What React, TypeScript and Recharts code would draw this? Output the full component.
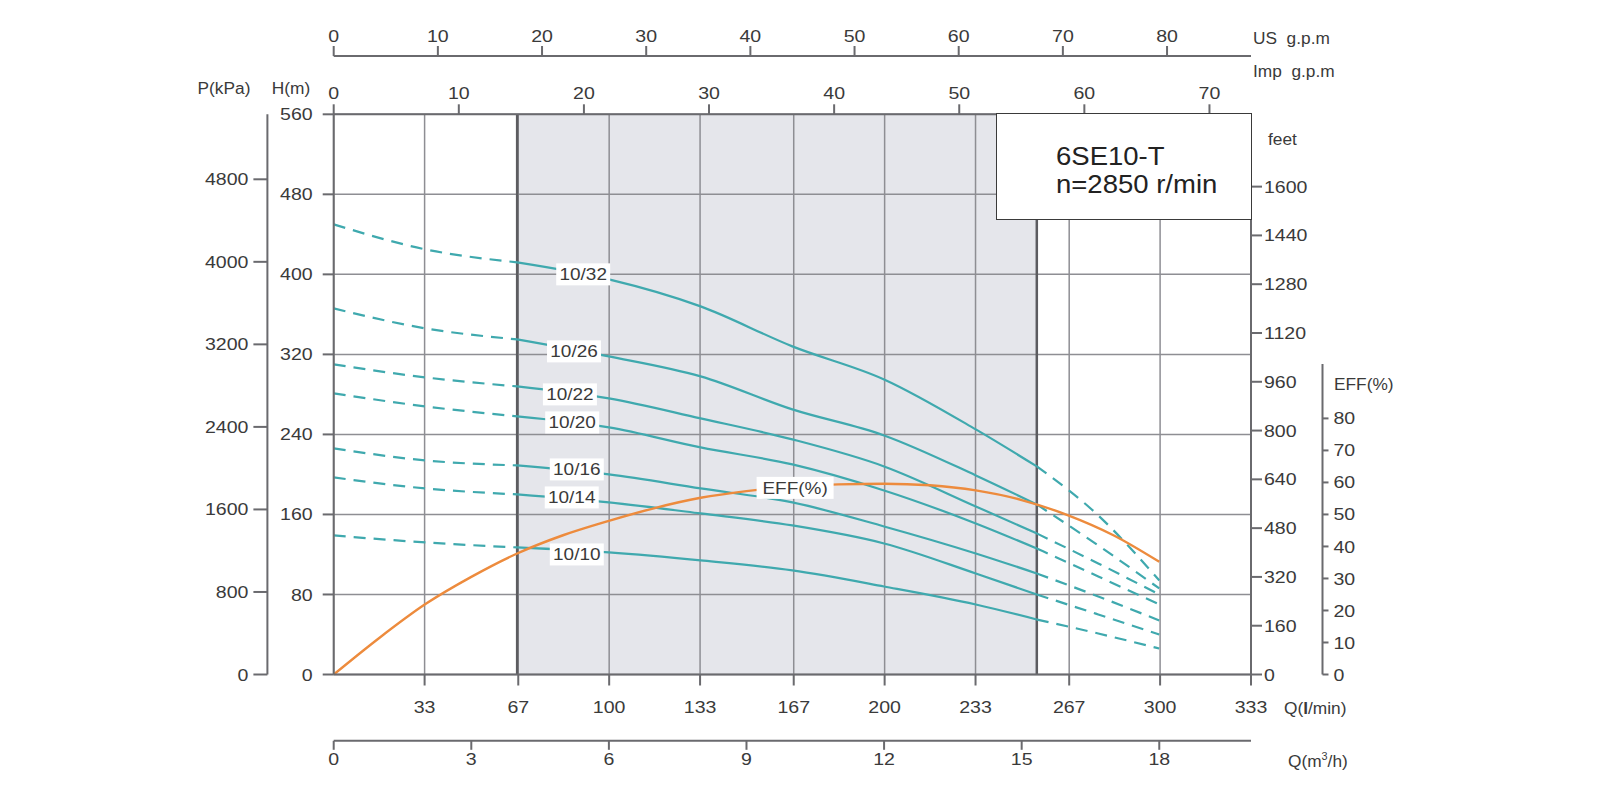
import React from 'react';
import {
  LineChart,
  Line,
  XAxis,
  YAxis,
  CartesianGrid,
  ReferenceArea,
  ReferenceLine,
  ReferenceDot,
} from 'recharts';

// flow points (m3/h) where the head curves were read
const Q_POINTS = [0, 2, 4, 6, 8, 10, 12, 14, 15.33, 16.67, 18];

// head (m) per model, same order as Q_POINTS
const HEAD_10_32 = [450, 425, 412, 395, 368, 328, 295, 245, 208, 159, 94];
const HEAD_10_26 = [366, 346, 335, 318, 298, 265, 239, 199, 170, 129, 86];
const HEAD_10_22 = [310, 297, 288, 276, 256, 235, 208, 168, 141, 111, 80];
const HEAD_10_20 = [281, 268, 258, 247, 227, 210, 184, 151, 126, 98, 70];
const HEAD_10_16 = [226, 214, 209, 200, 186, 172, 148, 121, 101, 78, 54];
const HEAD_10_14 = [197, 186, 180, 172, 161, 149, 131, 101, 80, 60, 40];
const HEAD_10_10 = [139, 132, 127, 122, 114, 104, 88, 70, 55, 41, 26];

const MODELS = ['10/32', '10/26', '10/22', '10/20', '10/16', '10/14', '10/10'];
const HEADS = [HEAD_10_32, HEAD_10_26, HEAD_10_22, HEAD_10_20, HEAD_10_16, HEAD_10_14, HEAD_10_10];

// where the model name sits on each curve
const LABEL_Q = [5.44, 5.24, 5.15, 5.2, 5.3, 5.19, 5.3];
const LABEL_H = [400, 323, 280, 252, 205, 177, 120];

// efficiency curve
const EFF_Q = [0, 1, 2, 3, 4, 5, 6, 7, 8, 9, 10, 11, 12, 13, 14, 15, 16, 17, 18];
const EFF_VALUES = [0, 11.5, 22, 30.5, 37.8, 43.5, 48, 52, 55.2, 57.3, 58.7, 59.4, 59.6, 59.1, 57.5, 54.5, 49.8, 43.5, 35.2];
const EFF_LABEL_Q = 10.06;
const EFF_LABEL_V = 58.3;

// recommended operating range (m3/h)
const RANGE_FROM = 4;
const RANGE_TO = 15.33;

const US_GPM_TICKS = [0, 10, 20, 30, 40, 50, 60, 70, 80];
const IMP_GPM_TICKS = [0, 10, 20, 30, 40, 50, 60, 70];
const LPM_TICKS = [33, 67, 100, 133, 167, 200, 233, 267, 300, 333];
const M3H_TICKS = [0, 3, 6, 9, 12, 15, 18];
const H_TICKS = [0, 80, 160, 240, 320, 400, 480, 560];
const KPA_TICKS = [0, 800, 1600, 2400, 3200, 4000, 4800];
const FEET_TICKS = [0, 160, 320, 480, 640, 800, 960, 1120, 1280, 1440, 1600];
const EFF_TICKS = [0, 10, 20, 30, 40, 50, 60, 70, 80];

const Q_MAX = 20;
const H_MAX = 560;
const EFF_MAX = 175;
const EFF_AXIS_TOP = 97;

const TEAL = '#3fa9ae';
const ORANGE = '#ed8b3d';
const GRID = '#8e8e93';
const AXIS = '#6a6a6e';
const EDGE = '#5c5c60';
const SHADE = '#e5e6eb';
const TEXT = '#3a3a3a';
const FONT = '"Liberation Sans", Arial, sans-serif';
const STRETCH = 1.15; // the source lettering is a bit wider than Arial

const MARGIN = { top: 6, right: 217.5, bottom: 9.2, left: 187.4 };
const PLOT_H = 800 - 6 - 50 - 58.3 - 66.3 - 50 - 9.2;
const EFF_GAP = ((EFF_MAX - EFF_AXIS_TOP) / EFF_MAX) * PLOT_H;

const segment = (heads: number[], lo: number, hi: number) =>
  Q_POINTS.map((q, i) => ({ q, h: heads[i] })).filter((p) => p.q >= lo && p.q <= hi);

const effData = EFF_Q.map((q, i) => ({ q, e: EFF_VALUES[i] }));

const lineStyle = { stroke: AXIS, strokeWidth: 2 };

const WideTick = (props: any) => {
  const { x, y, payload, textAnchor, verticalAnchor } = props;
  const dy = verticalAnchor === 'start' ? '0.71em' : verticalAnchor === 'end' ? '0' : '0.355em';
  return (
    <g transform={`translate(${x},${y}) scale(${STRETCH},1)`}>
      <text x={0} y={0} dy={dy} textAnchor={textAnchor} fill={TEXT} fontSize={17} fontFamily={FONT}>
        {payload.value}
      </text>
    </g>
  );
};

const labelShape = (text: string, w: number) => (p: any) => (
  <g>
    <rect x={p.cx - w / 2} y={p.cy - 11} width={w} height={22} fill="#fff" />
    <g transform={`translate(${p.cx},${p.cy}) scale(${STRETCH},1)`}>
      <text x={0} y={0} dy="0.36em" textAnchor="middle" fontSize={16.5} fill={TEXT} fontFamily={FONT}>
        {text}
      </text>
    </g>
  </g>
);

const Caption = ({ x, y, center, size = 16, children }: any) => (
  <div
    style={{
      position: 'absolute',
      left: x,
      top: y,
      transform: center ? 'translate(-50%, -50%) scaleX(1.08)' : 'translateY(-50%) scaleX(1.08)',
      transformOrigin: center ? 'center' : 'left center',
      fontSize: size,
      lineHeight: 1,
      color: TEXT,
      whiteSpace: 'pre',
      fontFamily: FONT,
    }}
  >
    {children}
  </div>
);

const axisCommon = {
  type: 'number' as const,
  allowDataOverflow: true,
  interval: 0 as const,
  tick: <WideTick />,
  axisLine: lineStyle,
  tickLine: lineStyle,
};

export default function App() {
  return (
    <div style={{ position: 'absolute', left: 0, top: 0, width: 1600, height: 800, background: '#fff' }}>
      <LineChart width={1600} height={800} margin={MARGIN} style={{ fontFamily: FONT }}>
        <ReferenceArea
          xAxisId="m3h"
          yAxisId="h"
          x1={RANGE_FROM}
          x2={RANGE_TO}
          fill={SHADE}
          fillOpacity={1}
          stroke="none"
          zIndex={-200}
        />
        <CartesianGrid xAxisId="lpm" yAxisId="h" stroke={GRID} strokeWidth={1.5} />

        <XAxis
          {...axisCommon}
          xAxisId="lpm"
          dataKey="q"
          orientation="bottom"
          domain={[0, 333]}
          ticks={LPM_TICKS}
          height={66.3}
          tickSize={11}
          tickMargin={15}
        />
        <XAxis
          {...axisCommon}
          xAxisId="m3h"
          dataKey="q"
          orientation="bottom"
          domain={[0, Q_MAX]}
          ticks={M3H_TICKS}
          height={50}
          tickSize={9}
          tickMargin={3}
        />
        <XAxis
          {...axisCommon}
          xAxisId="imp"
          dataKey="q"
          orientation="top"
          domain={[0, 73.32]}
          ticks={IMP_GPM_TICKS}
          height={58.3}
          tickSize={10}
          tickMargin={5}
        />
        <XAxis
          {...axisCommon}
          xAxisId="us"
          dataKey="q"
          orientation="top"
          domain={[0, 88.06]}
          ticks={US_GPM_TICKS}
          height={50}
          tickSize={10}
          tickMargin={4}
        />
        <YAxis
          {...axisCommon}
          yAxisId="h"
          orientation="left"
          domain={[0, H_MAX]}
          ticks={H_TICKS}
          width={66.3}
          tickSize={11}
          tickMargin={10}
        />
        <YAxis
          {...axisCommon}
          yAxisId="p"
          orientation="left"
          domain={[0, 5430]}
          ticks={KPA_TICKS}
          width={80}
          tickSize={14}
          tickMargin={5}
        />
        <YAxis
          {...axisCommon}
          yAxisId="ft"
          orientation="right"
          domain={[0, 1837.2]}
          ticks={FEET_TICKS}
          width={71.5}
          tickSize={11}
          tickMargin={2}
        />
        <YAxis
          {...axisCommon}
          yAxisId="r_eff"
          orientation="right"
          domain={[0, EFF_MAX]}
          ticks={EFF_TICKS}
          width={60}
          tickSize={6}
          tickMargin={5}
          axisLine={{ ...lineStyle, strokeDasharray: `0 ${EFF_GAP} ${PLOT_H}` }}
        />

        <ReferenceLine xAxisId="m3h" yAxisId="h" x={RANGE_FROM} stroke={EDGE} strokeWidth={2.5} />
        <ReferenceLine xAxisId="m3h" yAxisId="h" x={RANGE_TO} stroke={EDGE} strokeWidth={2.5} />

        {HEADS.map((heads, i) => [
          <Line
            key={`${MODELS[i]}-a`}
            xAxisId="m3h"
            yAxisId="h"
            data={segment(heads, 0, RANGE_FROM)}
            dataKey="h"
            type="monotone"
            stroke={TEAL}
            strokeWidth={2.2}
            strokeDasharray="12 8"
            dot={false}
            activeDot={false}
            isAnimationActive={false}
          />,
          <Line
            key={`${MODELS[i]}-b`}
            xAxisId="m3h"
            yAxisId="h"
            data={segment(heads, RANGE_FROM, RANGE_TO)}
            dataKey="h"
            type="monotone"
            stroke={TEAL}
            strokeWidth={2.2}
            dot={false}
            activeDot={false}
            isAnimationActive={false}
          />,
          <Line
            key={`${MODELS[i]}-c`}
            xAxisId="m3h"
            yAxisId="h"
            data={segment(heads, RANGE_TO, Q_MAX)}
            dataKey="h"
            type="monotone"
            stroke={TEAL}
            strokeWidth={2.2}
            strokeDasharray="12 8"
            dot={false}
            activeDot={false}
            isAnimationActive={false}
          />,
        ])}

        <Line
          xAxisId="m3h"
          yAxisId="r_eff"
          data={effData}
          dataKey="e"
          type="monotone"
          stroke={ORANGE}
          strokeWidth={2.4}
          dot={false}
          activeDot={false}
          isAnimationActive={false}
        />

        {MODELS.map((m, i) => (
          <ReferenceDot
            key={m}
            xAxisId="m3h"
            yAxisId="h"
            x={LABEL_Q[i]}
            y={LABEL_H[i]}
            r={0}
            zIndex={2100}
            shape={labelShape(m, 54)}
          />
        ))}
        <ReferenceDot
          xAxisId="m3h"
          yAxisId="r_eff"
          x={EFF_LABEL_Q}
          y={EFF_LABEL_V}
          r={0}
          zIndex={2100}
          shape={labelShape('EFF(%)', 77)}
        />
      </LineChart>

      <div
        style={{
          position: 'absolute',
          left: 996,
          top: 113.3,
          width: 256,
          height: 107,
          boxSizing: 'border-box',
          border: '1.5px solid #3a3a3a',
          background: '#fff',
          fontFamily: FONT,
          color: '#222',
          fontSize: 25,
          lineHeight: 1,
        }}
      >
        <div style={{ position: 'absolute', left: 59, top: 30, transform: 'scaleX(1.1)', transformOrigin: 'left' }}>
          6SE10-T
        </div>
        <div style={{ position: 'absolute', left: 59, top: 58, transform: 'scaleX(1.1)', transformOrigin: 'left' }}>
          n=2850 r/min
        </div>
      </div>

      <Caption x={223.5} y={89} center>P(kPa)</Caption>
      <Caption x={291} y={89} center>H(m)</Caption>
      <Caption x={1253} y={39}>{'US  g.p.m'}</Caption>
      <Caption x={1253} y={71.5}>{'Imp  g.p.m'}</Caption>
      <Caption x={1268} y={140}>feet</Caption>
      <Caption x={1334} y={385}>EFF(%)</Caption>
      <Caption x={1284} y={709}>
        Q(<b>l</b>/min)
      </Caption>
      <Caption x={1288} y={761}>
        Q(m<sup style={{ fontSize: 10 }}>3</sup>/h)
      </Caption>
    </div>
  );
}
